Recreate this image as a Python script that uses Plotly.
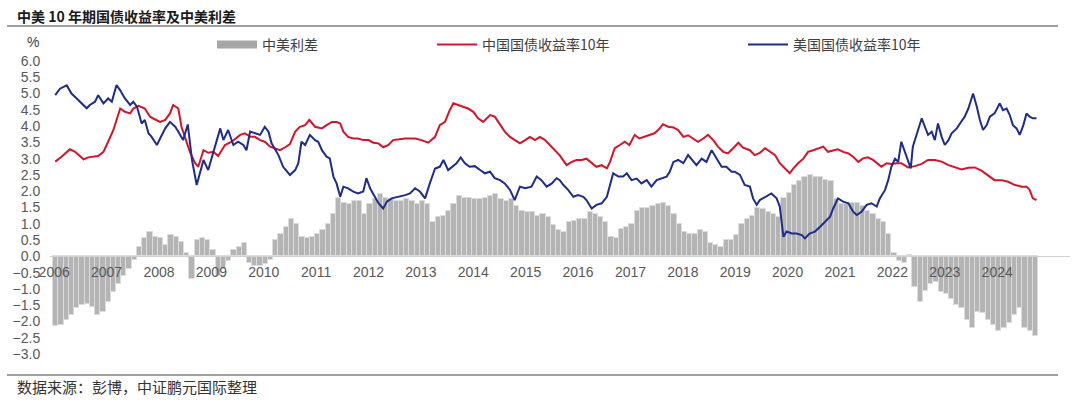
import plotly.graph_objects as go

# 中国10年期国债收益率 (decimal year, %)
cn_t = [2006.29, 2006.41, 2006.57, 2006.67, 2006.83, 2006.92, 2007.11, 2007.21, 2007.30, 2007.40,
        2007.46, 2007.53, 2007.62, 2007.72, 2007.78, 2007.88, 2008.00, 2008.10, 2008.19, 2008.29,
        2008.39, 2008.48, 2008.54, 2008.64, 2008.70, 2008.77, 2008.86, 2008.96, 2009.02, 2009.12,
        2009.21, 2009.31, 2009.40, 2009.53, 2009.66, 2009.82, 2009.91, 2010.01, 2010.10, 2010.20,
        2010.29, 2010.39, 2010.48, 2010.58, 2010.68, 2010.77, 2010.87, 2010.96, 2011.06, 2011.14,
        2011.25, 2011.38, 2011.47, 2011.57, 2011.66, 2011.73, 2011.79, 2011.88, 2011.98, 2012.07,
        2012.17, 2012.27, 2012.36, 2012.46, 2012.55, 2012.65, 2012.74, 2012.97, 2013.16, 2013.28,
        2013.41, 2013.54, 2013.63, 2013.73, 2013.82, 2013.89, 2013.98, 2014.08, 2014.17, 2014.27,
        2014.36, 2014.46, 2014.59, 2014.68, 2014.78, 2014.87, 2014.97, 2015.06, 2015.16, 2015.26,
        2015.35, 2015.45, 2015.54, 2015.64, 2015.73, 2015.83, 2015.92, 2016.05, 2016.15, 2016.24,
        2016.34, 2016.43, 2016.53, 2016.62, 2016.72, 2016.82, 2016.88, 2016.97, 2017.07, 2017.16,
        2017.25, 2017.35, 2017.44, 2017.54, 2017.63, 2017.73, 2017.83, 2017.89, 2017.99, 2018.09,
        2018.18, 2018.28, 2018.37, 2018.47, 2018.56, 2018.66, 2018.75, 2018.85, 2018.94, 2019.04,
        2019.13, 2019.23, 2019.33, 2019.42, 2019.55, 2019.64, 2019.74, 2019.84, 2019.93, 2020.03,
        2020.12, 2020.22, 2020.31, 2020.38, 2020.47, 2020.57, 2020.66, 2020.76, 2020.85, 2020.95,
        2021.04, 2021.14, 2021.23, 2021.33, 2021.43, 2021.52, 2021.62, 2021.71, 2021.80, 2021.90,
        2021.99, 2022.06, 2022.16, 2022.25, 2022.35, 2022.44, 2022.57, 2022.70, 2022.83, 2022.95,
        2023.08, 2023.21, 2023.34, 2023.46, 2023.59, 2023.72, 2023.84, 2023.97, 2024.10, 2024.22,
        2024.35, 2024.48, 2024.61, 2024.74, 2024.83, 2024.89, 2024.95, 2025.02]
cn_yield = [2.91, 3.06, 3.29, 3.21, 2.98, 3.04, 3.08, 3.21, 3.52, 3.88,
            4.19, 4.54, 4.44, 4.39, 4.54, 4.62, 4.54, 4.29, 4.21, 4.13,
            4.19, 4.39, 4.65, 4.54, 3.98, 3.67, 3.21, 2.86, 2.75, 3.26,
            3.18, 3.21, 3.08, 3.42, 3.52, 3.73, 3.78, 3.67, 3.67, 3.57,
            3.52, 3.37, 3.32, 3.26, 3.35, 3.45, 3.83, 3.98, 4.03, 4.19,
            3.98, 3.93, 4.03, 4.13, 4.13, 4.08, 3.83, 3.67, 3.62, 3.62,
            3.57, 3.57, 3.49, 3.47, 3.35, 3.42, 3.57, 3.62, 3.62, 3.57,
            3.49, 3.67, 4.03, 4.13, 4.49, 4.70, 4.65, 4.60, 4.54, 4.44,
            4.24, 4.13, 4.34, 4.29, 4.03, 3.83, 3.67, 3.57, 3.47, 3.57,
            3.67, 3.57, 3.67, 3.57, 3.42, 3.26, 3.10, 2.80, 2.90, 2.96,
            2.96, 3.00, 2.86, 2.75, 2.80, 2.70, 2.90, 3.32, 3.42, 3.52,
            3.42, 3.73, 3.62, 3.67, 3.73, 3.78, 3.93, 4.06, 3.98, 3.96,
            3.88, 3.67, 3.72, 3.62, 3.52, 3.62, 3.73, 3.57, 3.37, 3.21,
            3.16, 3.32, 3.49, 3.34, 3.26, 3.11, 3.18, 3.32, 3.21, 3.11,
            2.86, 2.70, 2.55, 2.70, 2.86, 3.00, 3.21, 3.26, 3.32, 3.37,
            3.21, 3.26, 3.29, 3.21, 3.16, 3.06, 2.90, 3.01, 3.04, 2.96,
            2.83, 2.75, 2.86, 2.84, 2.86, 2.86, 2.73, 2.77, 2.84, 2.96,
            2.96, 2.91, 2.80, 2.73, 2.67, 2.72, 2.73, 2.63, 2.47, 2.34,
            2.34, 2.29, 2.19, 2.14, 2.14, 2.04, 1.78, 1.73]

# 美国10年期国债收益率 (decimal year, %)
us_t = [2006.29, 2006.38, 2006.51, 2006.60, 2006.70, 2006.80, 2006.89, 2006.95, 2007.05, 2007.11,
        2007.21, 2007.30, 2007.37, 2007.46, 2007.53, 2007.62, 2007.72, 2007.78, 2007.85, 2007.94,
        2008.00, 2008.07, 2008.13, 2008.23, 2008.29, 2008.39, 2008.48, 2008.58, 2008.64, 2008.73,
        2008.82, 2008.90, 2008.99, 2009.05, 2009.12, 2009.21, 2009.28, 2009.37, 2009.44, 2009.50,
        2009.59, 2009.69, 2009.78, 2009.88, 2009.94, 2010.01, 2010.10, 2010.20, 2010.29, 2010.36,
        2010.42, 2010.48, 2010.55, 2010.64, 2010.71, 2010.77, 2010.87, 2010.93, 2010.99, 2011.06,
        2011.15, 2011.25, 2011.31, 2011.38, 2011.47, 2011.53, 2011.60, 2011.66, 2011.73, 2011.79,
        2011.88, 2011.98, 2012.07, 2012.17, 2012.23, 2012.30, 2012.39, 2012.46, 2012.55, 2012.62,
        2012.71, 2012.87, 2012.97, 2013.06, 2013.16, 2013.25, 2013.35, 2013.44, 2013.54, 2013.63,
        2013.70, 2013.79, 2013.89, 2013.95, 2014.03, 2014.11, 2014.20, 2014.30, 2014.40, 2014.49,
        2014.59, 2014.68, 2014.78, 2014.87, 2014.97, 2015.06, 2015.16, 2015.26, 2015.38, 2015.48,
        2015.57, 2015.67, 2015.77, 2015.86, 2015.92, 2015.99, 2016.08, 2016.18, 2016.27, 2016.37,
        2016.43, 2016.53, 2016.62, 2016.72, 2016.82, 2016.88, 2016.94, 2017.04, 2017.13, 2017.20,
        2017.29, 2017.39, 2017.48, 2017.58, 2017.67, 2017.77, 2017.86, 2017.96, 2018.02, 2018.09,
        2018.18, 2018.28, 2018.37, 2018.47, 2018.53, 2018.63, 2018.72, 2018.82, 2018.88, 2018.94,
        2019.01, 2019.10, 2019.20, 2019.26, 2019.36, 2019.45, 2019.55, 2019.61, 2019.68, 2019.74,
        2019.84, 2019.96, 2020.06, 2020.12, 2020.19, 2020.25, 2020.35, 2020.44, 2020.54, 2020.60,
        2020.69, 2020.79, 2020.89, 2020.98, 2021.08, 2021.14, 2021.23, 2021.33, 2021.43, 2021.52,
        2021.59, 2021.68, 2021.78, 2021.87, 2021.97, 2022.03, 2022.13, 2022.19, 2022.25, 2022.32,
        2022.38, 2022.44, 2022.50, 2022.57, 2022.62, 2022.66, 2022.73, 2022.83, 2022.89, 2022.95,
        2023.02, 2023.08, 2023.14, 2023.21, 2023.27, 2023.34, 2023.40, 2023.50, 2023.56, 2023.65,
        2023.72, 2023.81, 2023.88, 2023.94, 2024.00, 2024.07, 2024.13, 2024.22, 2024.32, 2024.38,
        2024.45, 2024.51, 2024.57, 2024.64, 2024.70, 2024.77, 2024.83, 2024.89, 2024.95, 2025.02]
us_yield = [4.95, 5.15, 5.25, 5.00, 4.85, 4.70, 4.55, 4.65, 4.75, 4.95,
            4.70, 4.85, 4.75, 5.26, 5.10, 4.85, 4.65, 4.75, 4.60, 4.08,
            4.19, 3.78, 3.67, 3.42, 3.62, 3.93, 4.13, 3.98, 3.83, 3.57,
            4.05, 2.96, 2.19, 2.55, 2.96, 2.65, 3.06, 3.52, 3.93, 3.57,
            3.88, 3.42, 3.52, 3.42, 3.26, 3.83, 3.78, 3.73, 3.98, 3.83,
            3.47, 3.32, 3.11, 2.75, 2.60, 2.50, 2.65, 2.86, 3.52, 3.42,
            3.73, 3.57, 3.52, 3.26, 3.06, 3.01, 2.45, 2.24, 1.83, 2.14,
            2.09, 1.99, 1.93, 1.99, 2.40, 2.09, 1.83, 1.63, 1.47, 1.68,
            1.78, 1.83, 1.88, 1.93, 2.09, 1.99, 1.78, 2.24, 2.70, 2.75,
            2.96, 2.65, 2.80, 2.86, 3.04, 2.86, 2.75, 2.77, 2.65, 2.55,
            2.60, 2.40, 2.34, 2.24, 2.04, 1.73, 2.14, 2.09, 2.14, 2.45,
            2.34, 2.14, 2.24, 2.40, 2.34, 2.19, 2.04, 1.83, 1.88, 1.83,
            1.73, 1.47, 1.58, 1.63, 1.83, 2.24, 2.55, 2.45, 2.45, 2.55,
            2.34, 2.39, 2.24, 2.34, 2.14, 2.34, 2.40, 2.45, 2.60, 2.90,
            2.96, 2.86, 3.11, 2.90, 2.80, 3.00, 2.90, 3.26, 3.11, 2.96,
            2.75, 2.75, 2.60, 2.60, 2.50, 2.19, 2.14, 1.78, 1.58, 1.73,
            1.83, 1.93, 1.78, 1.53, 0.60, 0.76, 0.70, 0.70, 0.65, 0.55,
            0.70, 0.76, 0.91, 1.06, 1.22, 1.47, 1.78, 1.68, 1.63, 1.37,
            1.27, 1.37, 1.58, 1.63, 1.53, 1.78, 2.04, 2.34, 2.75, 3.00,
            2.90, 3.52, 3.26, 2.90, 2.70, 3.37, 3.73, 4.24, 3.98, 3.73,
            3.83, 3.57, 4.08, 3.67, 3.42, 3.57, 3.78, 3.93, 4.08, 4.29,
            4.54, 5.00, 4.60, 4.19, 3.88, 4.03, 4.29, 4.39, 4.70, 4.49,
            4.54, 4.34, 4.03, 3.93, 3.73, 4.03, 4.39, 4.29, 4.24, 4.24]

# 中美利差 (decimal year, %)
spread_t = [2006.3, 2006.4, 2006.5, 2006.6, 2006.7, 2006.8, 2006.9,
            2007.0, 2007.1, 2007.2, 2007.3, 2007.4, 2007.5, 2007.6, 2007.7, 2007.8, 2007.9,
            2008.0, 2008.1, 2008.2, 2008.3, 2008.4, 2008.5, 2008.6, 2008.7, 2008.8, 2008.9,
            2009.0, 2009.1, 2009.2, 2009.3, 2009.4, 2009.5, 2009.6, 2009.7, 2009.8, 2009.9,
            2010.0, 2010.1, 2010.2, 2010.3, 2010.4, 2010.5, 2010.6, 2010.7, 2010.8, 2010.9,
            2011.0, 2011.1, 2011.2, 2011.3, 2011.4, 2011.5, 2011.6, 2011.7, 2011.8, 2011.9,
            2012.0, 2012.1, 2012.2, 2012.3, 2012.4, 2012.5, 2012.6, 2012.7, 2012.8, 2012.9,
            2013.0, 2013.1, 2013.2, 2013.3, 2013.4, 2013.5, 2013.6, 2013.7, 2013.8, 2013.9,
            2014.0, 2014.1, 2014.2, 2014.3, 2014.4, 2014.5, 2014.6, 2014.7, 2014.8, 2014.9,
            2015.0, 2015.1, 2015.2, 2015.3, 2015.4, 2015.5, 2015.6, 2015.7, 2015.8, 2015.9,
            2016.0, 2016.1, 2016.2, 2016.3, 2016.4, 2016.5, 2016.6, 2016.7, 2016.8, 2016.9,
            2017.0, 2017.1, 2017.2, 2017.3, 2017.4, 2017.5, 2017.6, 2017.7, 2017.8, 2017.9,
            2018.0, 2018.1, 2018.2, 2018.3, 2018.4, 2018.5, 2018.6, 2018.7, 2018.8, 2018.9,
            2019.0, 2019.1, 2019.2, 2019.3, 2019.4, 2019.5, 2019.6, 2019.7, 2019.8, 2019.9,
            2020.0, 2020.1, 2020.2, 2020.3, 2020.4, 2020.5, 2020.6, 2020.7, 2020.8, 2020.9,
            2021.0, 2021.1, 2021.2, 2021.3, 2021.4, 2021.5, 2021.6, 2021.7, 2021.8, 2021.9,
            2022.0, 2022.1, 2022.2, 2022.3, 2022.4, 2022.5, 2022.6, 2022.7, 2022.8, 2022.9,
            2023.0, 2023.1, 2023.2, 2023.3, 2023.4, 2023.5, 2023.6, 2023.7, 2023.8, 2023.9,
            2024.0, 2024.1, 2024.2, 2024.3, 2024.4, 2024.5, 2024.6, 2024.7, 2024.8, 2024.9,
            2025.0]
spread = [-2.15, -2.10, -1.95, -1.80, -1.60, -1.50, -1.45,
          -1.55, -1.80, -1.70, -1.40, -1.10, -0.85, -0.60, -0.40, -0.10, 0.30,
          0.55, 0.75, 0.60, 0.55, 0.35, 0.65, 0.60, 0.45, 0.10, -0.70,
          0.50, 0.55, 0.50, 0.20, -0.60, -0.40, -0.15, 0.20, 0.30, 0.40,
          -0.20, -0.30, -0.30, -0.25, -0.10, 0.50, 0.70, 0.90, 1.15, 1.00,
          0.60, 0.55, 0.60, 0.70, 0.80, 1.00, 1.30, 1.80, 1.65, 1.60,
          1.70, 1.70, 1.30, 1.60, 1.75, 1.90, 1.80, 1.75, 1.70, 1.70,
          1.75, 1.70, 1.60, 1.70, 1.60, 1.05, 1.20, 1.25, 1.40, 1.60,
          1.85, 1.80, 1.80, 1.75, 1.75, 1.80, 1.85, 1.90, 1.75, 1.70,
          1.75, 1.55, 1.40, 1.35, 1.35, 1.25, 1.30, 1.20, 0.95, 0.80,
          0.75, 1.05, 1.10, 1.15, 1.15, 1.35, 1.30, 1.20, 1.05, 0.60,
          0.55, 0.85, 0.90, 1.00, 1.40, 1.50, 1.50, 1.55, 1.60, 1.65,
          1.55, 1.30, 1.00, 0.75, 0.70, 0.70, 0.80, 0.75, 0.40, 0.35,
          0.30, 0.50, 0.50, 0.65, 1.00, 1.15, 1.25, 1.50, 1.45, 1.35,
          1.30, 1.20, 1.80, 1.95, 2.20, 2.30, 2.45, 2.50, 2.45, 2.45,
          2.35, 2.30, 1.75, 1.60, 1.60, 1.65, 1.65, 1.55, 1.40, 1.30,
          1.15, 1.05, 0.70, 0.10, -0.15, -0.20, 0.05, -0.95, -1.40, -1.05,
          -0.85, -0.80, -1.10, -1.15, -1.30, -1.50, -1.60, -1.95, -2.20, -1.70,
          -1.75, -1.95, -2.10, -2.30, -2.20, -2.05, -1.80, -1.60, -2.20, -2.30,
          -2.45]

years = list(range(2006, 2025))

W, H = 1080, 400
ML, MR, MT, MB = 50, 10, 61, 46
PW = W - ML - MR
PH = H - MT - MB


def px(x):
    return (x - ML) / PW


def py(y):
    return (H - MB - y) / PH


TXT = '#404040'
FONT = 'Liberation Sans, Noto Sans CJK SC, sans-serif'
CJK = 'Noto Sans CJK SC, sans-serif'

fig = go.Figure()
fig.add_trace(go.Bar(x=spread_t, y=spread, name='中美利差', showlegend=False,
                     marker=dict(color='#b4b4b4', line=dict(width=1, color='#dcdcdc')),
                     hoverinfo='skip'))
# legend entry for the spread bars (wide grey swatch as in the original)
fig.add_trace(go.Scatter(x=[None], y=[None], mode='lines', name='中美利差',
                         line=dict(color='#a6a6a6', width=8), legend='legend'))
fig.add_trace(go.Scatter(x=cn_t, y=cn_yield, mode='lines', name='中国国债收益率10年',
                         line=dict(color='#d4142a', width=2), legend='legend2'))
fig.add_trace(go.Scatter(x=us_t, y=us_yield, mode='lines', name='美国国债收益率10年',
                         line=dict(color='#1e2c8c', width=2), legend='legend3'))

leg = dict(orientation='h', xanchor='left', yanchor='middle', y=py(45), itemwidth=40,
           bgcolor='rgba(0,0,0,0)', font=dict(family=CJK, size=14, color=TXT))
fig.update_layout(
    width=W, height=H,
    margin=dict(l=ML, r=MR, t=MT, b=MB, pad=0),
    paper_bgcolor='white', plot_bgcolor='white',
    font=dict(family=FONT, size=14, color='#595959'),
    bargap=0,
    legend=dict(leg, x=px(212)),
    legend2=dict(leg, x=px(432)),
    legend3=dict(leg, x=px(743)),
    xaxis=dict(range=[2006.19, 2025.66], tickvals=[y + 0.27 for y in years],
               ticktext=[str(y) for y in years], anchor='free', position=1 / 3,
               showline=True, linecolor='#d0d0d0', linewidth=1, showgrid=False,
               zeroline=False, ticks='outside', ticklen=3, tickcolor='rgba(0,0,0,0)',
               tickfont=dict(size=14, color='#595959')),
    yaxis=dict(range=[-3, 6], dtick=0.5, tickformat='.1f', showgrid=False,
               zeroline=False, showline=False, ticks='outside', ticklen=6,
               tickcolor='rgba(0,0,0,0)', tickfont=dict(size=14, color='#595959')),
)

fig.add_annotation(xref='paper', yref='paper', x=px(15), y=py(16), xanchor='left',
                   yanchor='middle', showarrow=False,
                   text='<b>中美 10 年期国债收益率及中美利差</b>',
                   font=dict(family=CJK, size=14, color='#1a1a1a'))
fig.add_annotation(xref='paper', yref='paper', x=px(33), y=py(42), xanchor='center',
                   yanchor='middle', showarrow=False, text='%',
                   font=dict(family=FONT, size=14, color=TXT))
fig.add_annotation(xref='paper', yref='paper', x=px(15), y=py(386), xanchor='left',
                   yanchor='middle', showarrow=False,
                   text='数据来源：彭博，中证鹏元国际整理',
                   font=dict(family=CJK, size=15, color='#333333'))
for yy in (26, 375):
    fig.add_shape(type='line', xref='paper', yref='paper', x0=px(7), x1=px(1058),
                  y0=py(yy), y1=py(yy), line=dict(color='#808080', width=1.5))

# drop the default 8px page margin so the figure sits at the window's top-left
fig.write_html("out.html", config={'displayModeBar': False},
               post_script="document.body.style.margin='0';")
